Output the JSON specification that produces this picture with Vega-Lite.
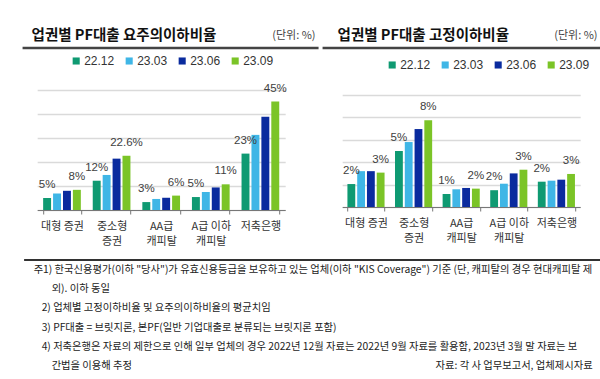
{
  "$schema": "https://vega.github.io/schema/vega-lite/v6.json",
  "padding": {"left": 21, "top": 24, "right": 0, "bottom": 0},
  "background": "white",
  "config": {"view": {"stroke": null}, "font": "Noto Sans CJK KR"},
  "datasets": {
    "heading": [
      {"panel": "L", "title": "업권별 PF대출 요주의이하비율", "unit": "(단위: %)"},
      {"panel": "R", "title": "업권별 PF대출 고정이하비율", "unit": "(단위: %)"}
    ],
    "yo": [
      {"cat": "대형 증권", "series": "22.12", "value": 5.0, "label": "5%"},
      {"cat": "대형 증권", "series": "23.03", "value": 6.9},
      {"cat": "대형 증권", "series": "23.06", "value": 8.0},
      {"cat": "대형 증권", "series": "23.09", "value": 8.4, "label": "8%"},
      {"cat": "중소형\n증권", "series": "22.12", "value": 12.2, "label": "12%"},
      {"cat": "중소형\n증권", "series": "23.03", "value": 14.6},
      {"cat": "중소형\n증권", "series": "23.06", "value": 21.4},
      {"cat": "중소형\n증권", "series": "23.09", "value": 22.6, "label": "22.6%"},
      {"cat": "AA급\n캐피탈", "series": "22.12", "value": 3.3, "label": "3%"},
      {"cat": "AA급\n캐피탈", "series": "23.03", "value": 4.6},
      {"cat": "AA급\n캐피탈", "series": "23.06", "value": 5.1},
      {"cat": "AA급\n캐피탈", "series": "23.09", "value": 6.0, "label": "6%"},
      {"cat": "A급 이하\n캐피탈", "series": "22.12", "value": 5.4, "label": "5%"},
      {"cat": "A급 이하\n캐피탈", "series": "23.03", "value": 7.5},
      {"cat": "A급 이하\n캐피탈", "series": "23.06", "value": 9.4},
      {"cat": "A급 이하\n캐피탈", "series": "23.09", "value": 10.7, "label": "11%"},
      {"cat": "저축은행", "series": "22.12", "value": 23.5, "label": "23%"},
      {"cat": "저축은행", "series": "23.03", "value": 31.3},
      {"cat": "저축은행", "series": "23.06", "value": 38.9},
      {"cat": "저축은행", "series": "23.09", "value": 45.2, "label": "45%"}
    ],
    "go": [
      {"cat": "대형 증권", "series": "22.12", "value": 2.05, "label": "2%"},
      {"cat": "대형 증권", "series": "23.03", "value": 3.2},
      {"cat": "대형 증권", "series": "23.06", "value": 3.2},
      {"cat": "대형 증권", "series": "23.09", "value": 3.07, "label": "3%"},
      {"cat": "중소형\n증권", "series": "22.12", "value": 5.0, "label": "5%"},
      {"cat": "중소형\n증권", "series": "23.03", "value": 5.8},
      {"cat": "중소형\n증권", "series": "23.06", "value": 6.96},
      {"cat": "중소형\n증권", "series": "23.09", "value": 7.74, "label": "8%"},
      {"cat": "AA급\n캐피탈", "series": "22.12", "value": 1.16, "label": "1%"},
      {"cat": "AA급\n캐피탈", "series": "23.03", "value": 1.58},
      {"cat": "AA급\n캐피탈", "series": "23.06", "value": 1.7},
      {"cat": "AA급\n캐피탈", "series": "23.09", "value": 1.64, "label": "2%"},
      {"cat": "A급 이하\n캐피탈", "series": "22.12", "value": 1.5, "label": "2%"},
      {"cat": "A급 이하\n캐피탈", "series": "23.03", "value": 2.08},
      {"cat": "A급 이하\n캐피탈", "series": "23.06", "value": 3.0},
      {"cat": "A급 이하\n캐피탈", "series": "23.09", "value": 3.33, "label": "3%"},
      {"cat": "저축은행", "series": "22.12", "value": 2.26, "label": "2%"},
      {"cat": "저축은행", "series": "23.03", "value": 2.35},
      {"cat": "저축은행", "series": "23.06", "value": 2.44},
      {"cat": "저축은행", "series": "23.09", "value": 2.95, "label": "3%"}
    ],
    "notes": [
      {"line": 1, "kind": "first", "text": "주1) 한국신용평가(이하 \"당사\")가 유효신용등급을 보유하고 있는 업체(이하 \"KIS Coverage\") 기준 (단, 캐피탈의 경우 현대캐피탈 제"},
      {"line": 2, "kind": "cont", "text": "외). 이하 동일"},
      {"line": 3, "kind": "item", "text": "2) 업체별 고정이하비율 및 요주의이하비율의 평균치임"},
      {"line": 4, "kind": "item", "text": "3) PF대출 = 브릿지론, 본PF(일반 기업대출로 분류되는 브릿지론 포함)"},
      {"line": 5, "kind": "item", "text": "4) 저축은행은 자료의 제한으로 인해 일부 업체의 경우 2022년 12월 자료는 2022년 9월 자료를 활용함, 2023년 3월 말 자료는 보"},
      {"line": 6, "kind": "cont", "text": "간법을 이용해 추정"},
      {"line": 6, "kind": "source", "text": "자료: 각 사 업무보고서, 업체제시자료"}
    ]
  },
  "vconcat": [
    {
      "vconcat": [
        {
          "hconcat": [
            {
              "width": 296,
              "height": 24,
              "data": {"name": "heading"},
              "transform": [{"filter": "datum.panel == 'L'"}],
              "layer": [
                {
                  "mark": {"type": "rule", "color": "#444", "strokeWidth": 2.5},
                  "encoding": {"y": {"datum": 0, "type": "quantitative", "scale": {"domain": [0, 1], "nice": false}, "axis": null}}
                },
                {
                  "mark": {"type": "text", "align": "left", "baseline": "middle", "dx": 9, "fontWeight": "bold", "fontSize": 14.5, "color": "#111"},
                  "encoding": {
                    "x": {"datum": 0, "type": "quantitative", "scale": {"domain": [0, 1], "nice": false}, "axis": null},
                    "text": {"field": "title"}
                  }
                },
                {
                  "mark": {"type": "text", "align": "right", "baseline": "middle", "dx": -3, "fontSize": 11, "color": "#444"},
                  "encoding": {
                    "x": {"datum": 1, "type": "quantitative", "axis": null},
                    "text": {"field": "unit"}
                  }
                }
              ]
            },
            {
              "width": 281,
              "height": 24,
              "data": {"name": "heading"},
              "transform": [{"filter": "datum.panel == 'R'"}],
              "layer": [
                {
                  "mark": {"type": "rule", "color": "#444", "strokeWidth": 2.5},
                  "encoding": {"y": {"datum": 0, "type": "quantitative", "scale": {"domain": [0, 1], "nice": false}, "axis": null}}
                },
                {
                  "mark": {"type": "text", "align": "left", "baseline": "middle", "dx": 15, "fontWeight": "bold", "fontSize": 14.5, "color": "#111"},
                  "encoding": {
                    "x": {"datum": 0, "type": "quantitative", "scale": {"domain": [0, 1], "nice": false}, "axis": null},
                    "text": {"field": "title"}
                  }
                },
                {
                  "mark": {"type": "text", "align": "right", "baseline": "middle", "dx": -6, "fontSize": 11, "color": "#444"},
                  "encoding": {
                    "x": {"datum": 1, "type": "quantitative", "axis": null},
                    "text": {"field": "unit"}
                  }
                }
              ]
            }
          ],
          "spacing": 0
        },
        {
          "hconcat": [
            {
              "width": 248,
              "height": 120,
              "data": {"name": "yo"},
              "encoding": {
                "x": {"field": "cat", "type": "nominal",
                  "scale": {"domain": ["대형 증권", "중소형\n증권", "AA급\n캐피탈", "A급 이하\n캐피탈", "저축은행"], "paddingInner": 0.24, "paddingOuter": 0.12},
                  "axis": {"title": null, "labelAngle": 0, "labelFontSize": 11, "labelColor": "#333", "labelLineHeight": 15, "labelPadding": 6, "tickBand": "extent", "tickSize": 4, "tickColor": "#777", "domainColor": "#777", "grid": false, "labelExpr": "split(datum.label, '\\n')"}},
                "xOffset": {"field": "series", "type": "nominal", "scale": {"domain": ["22.12", "23.03", "23.06", "23.09"], "paddingInner": 0.2, "paddingOuter": 0}},
                "y": {"field": "value", "type": "quantitative", "scale": {"domain": [0, 50], "nice": false},
                  "axis": {"values": [0, 10, 20, 30, 40, 50], "labels": false, "ticks": false, "domain": false, "title": null, "grid": true, "gridColor": "#dadada", "gridWidth": 1.5}}
              },
              "layer": [
                {
                  "mark": {"type": "bar"},
                  "encoding": {
                    "color": {"field": "series", "type": "nominal",
                      "scale": {"domain": ["22.12", "23.03", "23.06", "23.09"], "range": ["#0f9a72", "#3fb6e6", "#0a2b9e", "#7bc427"]},
                      "legend": {"orient": "none", "legendX": 33, "legendY": -35, "direction": "horizontal", "title": null, "symbolType": "square", "symbolSize": 50, "symbolStrokeWidth": 0, "labelFontSize": 12, "labelFont": "Liberation Sans", "labelColor": "#333", "columnPadding": 8, "labelOffset": 2, "padding": 0}}
                  }
                },
                {
                  "transform": [{"filter": "isValid(datum.label)"}],
                  "mark": {"type": "text", "baseline": "alphabetic", "dy": -10, "fontSize": 11.5, "font": "Liberation Sans", "color": "#404040"},
                  "encoding": {"text": {"field": "label"}}
                }
              ]
            },
            {
              "width": 238,
              "height": 117,
              "data": {"name": "go"},
              "encoding": {
                "x": {"field": "cat", "type": "nominal",
                  "scale": {"domain": ["대형 증권", "중소형\n증권", "AA급\n캐피탈", "A급 이하\n캐피탈", "저축은행"], "paddingInner": 0.22, "paddingOuter": 0.11},
                  "axis": {"title": null, "labelAngle": 0, "labelFontSize": 11, "labelColor": "#333", "labelLineHeight": 15, "labelPadding": 6, "tickBand": "extent", "tickSize": 4, "tickColor": "#777", "domainColor": "#777", "grid": false, "labelExpr": "split(datum.label, '\\n')"}},
                "xOffset": {"field": "series", "type": "nominal", "scale": {"domain": ["22.12", "23.03", "23.06", "23.09"], "paddingInner": 0.2, "paddingOuter": 0}},
                "y": {"field": "value", "type": "quantitative", "scale": {"domain": [0, 10], "nice": false, "range": [117, 5]},
                  "axis": {"values": [0, 2, 4, 6, 8, 10], "labels": false, "ticks": false, "domain": false, "title": null, "grid": true, "gridColor": "#dadada", "gridWidth": 1.5}}
              },
              "layer": [
                {
                  "mark": {"type": "bar"},
                  "encoding": {
                    "color": {"field": "series", "type": "nominal",
                      "scale": {"domain": ["22.12", "23.03", "23.06", "23.09"], "range": ["#0f9a72", "#3fb6e6", "#0a2b9e", "#7bc427"]},
                      "legend": {"orient": "none", "legendX": 44, "legendY": -31, "direction": "horizontal", "title": null, "symbolType": "square", "symbolSize": 50, "symbolStrokeWidth": 0, "labelFontSize": 12, "labelFont": "Liberation Sans", "labelColor": "#333", "columnPadding": 8, "labelOffset": 2, "padding": 0}}
                  }
                },
                {
                  "transform": [{"filter": "isValid(datum.label)"}],
                  "mark": {"type": "text", "baseline": "alphabetic", "dy": -10, "fontSize": 11.5, "font": "Liberation Sans", "color": "#404040"},
                  "encoding": {"text": {"field": "label"}}
                }
              ]
            }
          ],
          "spacing": 55,
          "resolve": {"scale": {"x": "independent", "y": "independent", "xOffset": "independent", "color": "independent"}, "legend": {"color": "independent"}}
        }
      ],
      "spacing": 5,
      "center": true
    },
    {
      "width": 577,
      "height": 96,
      "data": {"name": "notes"},
      "encoding": {
        "y": {"field": "line", "type": "ordinal", "scale": {"type": "point", "padding": 0, "domain": [1, 2, 3, 4, 5, 6]}, "axis": null}
      },
      "layer": [
        {
          "mark": {"type": "rule", "color": "#333", "strokeWidth": 1.5},
          "encoding": {"y": {"datum": 1, "type": "ordinal"}}
        },
        {
          "transform": [{"filter": "datum.kind == 'first'"}],
          "mark": {"type": "text", "align": "left", "baseline": "top", "dx": 9, "dy": 5, "fontSize": 10.3, "color": "#222"},
          "encoding": {
            "x": {"datum": 0, "type": "quantitative", "scale": {"domain": [0, 1], "nice": false}, "axis": null},
            "text": {"field": "text"}
          }
        },
        {
          "transform": [{"filter": "datum.kind == 'item'"}],
          "mark": {"type": "text", "align": "left", "baseline": "top", "dx": 17, "dy": 5, "fontSize": 10.3, "color": "#222"},
          "encoding": {
            "x": {"datum": 0, "type": "quantitative", "axis": null},
            "text": {"field": "text"}
          }
        },
        {
          "transform": [{"filter": "datum.kind == 'cont'"}],
          "mark": {"type": "text", "align": "left", "baseline": "top", "dx": 27, "dy": 5, "fontSize": 10.3, "color": "#222"},
          "encoding": {
            "x": {"datum": 0, "type": "quantitative", "axis": null},
            "text": {"field": "text"}
          }
        },
        {
          "transform": [{"filter": "datum.kind == 'source'"}],
          "mark": {"type": "text", "align": "right", "baseline": "top", "dx": -9, "dy": 5, "fontSize": 10.3, "color": "#222"},
          "encoding": {
            "x": {"datum": 1, "type": "quantitative", "axis": null},
            "text": {"field": "text"}
          }
        }
      ]
    }
  ],
  "spacing": 13,
  "center": true
}
